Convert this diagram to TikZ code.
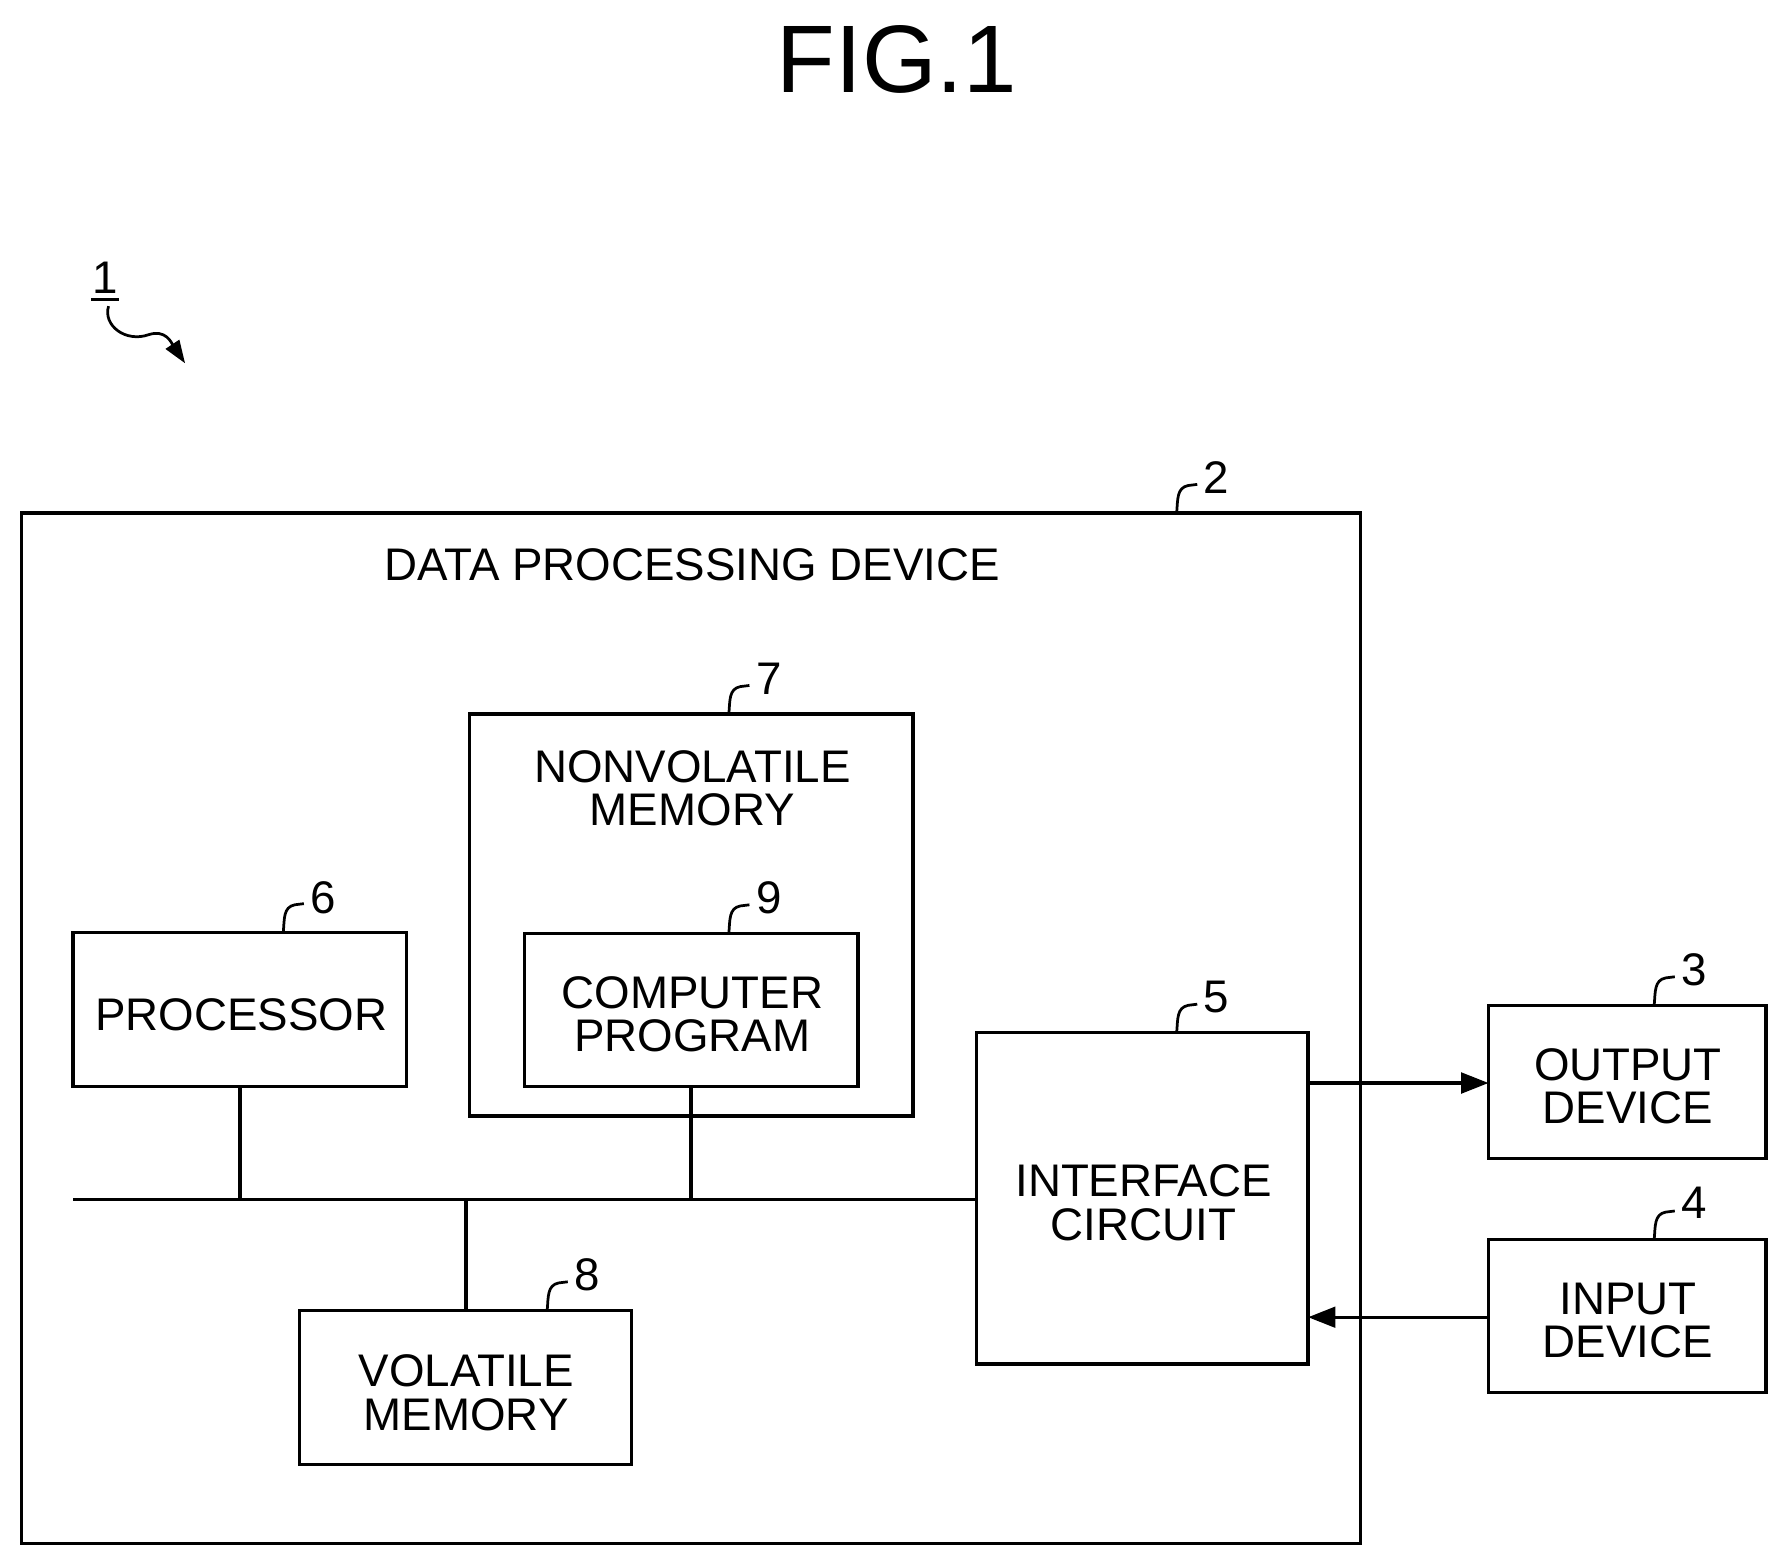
\documentclass[tikz,border=0pt]{standalone}
\usepackage{fontspec}
\setmainfont{Liberation Sans}
\usetikzlibrary{arrows.meta}
\begin{document}
\begin{tikzpicture}[x=0.5pt,y=-0.5pt,
  box/.style={draw,line width=1.5pt,inner sep=0pt,outer sep=0pt,anchor=north west},
  lbl/.style={font=\fontsize{20}{22}\selectfont,align=center,inner sep=0pt},
  num/.style={font=\fontsize{20}{22}\selectfont,inner sep=0pt},
  ln/.style={line width=1.5pt},
  arr/.style={line width=1.5pt,-{Triangle[length=12pt,width=9pt]}},
  lead/.style={line width=1.2pt}]
\useasboundingbox (0,0) rectangle (1566,1371);
\newcommand\mylead[2]{\draw[lead] (#1,#2) .. controls (#1+1,#2-12) and (#1,#2-22) .. (#1+10,#2-24) .. controls (#1+14,#2-25) .. (#1+18,#2-25);}
\node[font=\fontsize{42}{46}\selectfont,inner sep=0pt] (fig) at (785,52) {FIG.1};
% ref 1
\node[num] (n1) at (92,243) {1};
\draw[line width=1.2pt] (80,262) -- (104,262);
\coordinate (a1) at (95,268);
\coordinate (a1e) at (162,318);
\draw[line width=1.2pt,-{Triangle[length=10pt,width=7pt]}] (a1) .. controls (90,285) and (110,300) .. (130,293) .. controls (145,288) and (150,300) .. (a1e);
% boxes
\node[box,minimum width=1172*0.5pt,minimum height=902*0.5pt] (dpd) at (19,449) {};
\node[lbl] (dpdt) at (606,494) {DATA PROCESSING DEVICE};
\node[box,minimum width=388*0.5pt,minimum height=352*0.5pt] (nv) at (411,625) {};
\node[lbl] (nvt) at (606,690) {NONVOLATILE\\[-3pt]MEMORY};
\node[box,minimum width=292*0.5pt,minimum height=134*0.5pt] (cp) at (459,817) {};
\node[lbl] (cpt) at (606,888) {COMPUTER\\[-3pt]PROGRAM};
\node[box,minimum width=292*0.5pt,minimum height=135*0.5pt] (pr) at (64,816) {};
\node[lbl] (prt) at (211,888) {PROCESSOR};
\node[box,minimum width=290*0.5pt,minimum height=290*0.5pt] (ic) at (855,904) {};
\node[lbl] (ict) at (1001,1053) {INTERFACE\\[-3pt]CIRCUIT};
\node[box,minimum width=291*0.5pt,minimum height=135*0.5pt] (vm) at (262,1147) {};
\node[lbl] (vmt) at (408,1219) {VOLATILE\\[-3pt]MEMORY};
\node[box,minimum width=243*0.5pt,minimum height=134*0.5pt] (od) at (1303,880) {};
\node[lbl] (odt) at (1425,951) {OUTPUT\\[-3pt]DEVICE};
\node[box,minimum width=243*0.5pt,minimum height=134*0.5pt] (id) at (1303,1085) {};
\node[lbl] (idt) at (1425,1156) {INPUT\\[-3pt]DEVICE};
% bus
\coordinate (b0) at (64,1050);
\coordinate (bv) at (408,1050);
\draw[ln] (b0) -- (ic.west |- b0);
\draw[ln] (pr.south) -- (pr.south |- b0);
\draw[ln] (cp.south) -- (cp.south |- b0);
\draw[ln] (vm.north -| bv) -- (bv);
\draw[arr] (ic.east |- 0,948) -- (od.west |- 0,948);
\draw[arr] (id.west |- 0,1153) -- (ic.east |- 0,1153);
% ref numerals
\node[num] (n2) at (1065,418) {2}; \mylead{1030}{449}
\node[num] (n7) at (673,594) {7}; \mylead{638}{625}
\node[num] (n6) at (283,786) {6}; \mylead{248}{816}
\node[num] (n9) at (673,786) {9}; \mylead{638}{817}
\node[num] (n5) at (1065,873) {5}; \mylead{1030}{904}
\node[num] (n8) at (514,1116) {8}; \mylead{479}{1147}
\node[num] (n3) at (1483,849) {3}; \mylead{1448}{880}
\node[num] (n4) at (1483,1053) {4}; \mylead{1448}{1085}
\end{tikzpicture}
\end{document}
